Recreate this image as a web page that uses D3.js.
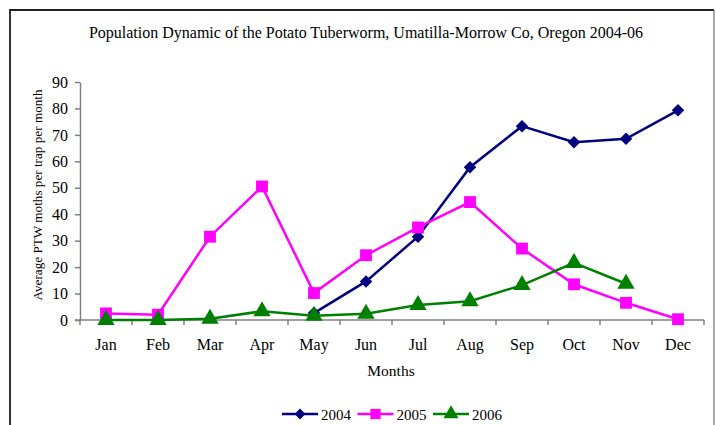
<!DOCTYPE html>
<html>
<head>
<meta charset="utf-8">
<script src="https://cdn.jsdelivr.net/npm/d3@7"></script>
<style>
  body { margin: 0; background: #fff; }
  svg text { font-family: "Liberation Serif", "Times New Roman", serif !important; fill: #000; }
</style>
</head>
<body>
<div id="chart"></div>
<script>
// ---- data ----
const months = ["Jan", "Feb", "Mar", "Apr", "May", "Jun", "Jul", "Aug", "Sep", "Oct", "Nov", "Dec"];
const seriesNames = ["2004", "2005", "2006"];
const values2004 = [null, null, null, null, 2.6, 14.6, 31.5, 57.8, 73.3, 67.2, 68.5, 79.3];
const values2005 = [2.5, 2, 31.5, 50.5, 10.2, 24.5, 35, 44.6, 27, 13.5, 6.5, 0.3];
const values2006 = [0, 0, 0.5, 3.3, 1.6, 2.4, 5.7, 7.1, 13.2, 21.6, 13.7, null];
const yTicks = [0, 10, 20, 30, 40, 50, 60, 70, 80, 90];

// ---- layout ----
const width = 715, height = 425;
const plot = { left: 80, right: 704, top: 82, bottom: 320 };

const svg = d3.select("#chart").append("svg")
    .attr("width", width)
    .attr("height", height)
    .attr("font-family", "Liberation Serif");

// frame (left/top darker, right lighter, bottom cut off)
svg.append("line").attr("x1", 10).attr("x2", 10).attr("y1", 9).attr("y2", height)
    .attr("stroke", "#333").attr("stroke-width", 2);
svg.append("line").attr("x1", 9).attr("x2", 714).attr("y1", 10).attr("y2", 10)
    .attr("stroke", "#222").attr("stroke-width", 2);
svg.append("line").attr("x1", 714).attr("x2", 714).attr("y1", 10).attr("y2", height)
    .attr("stroke", "#888").attr("stroke-width", 1.5);

const x = d3.scaleBand().domain(months).range([plot.left, plot.right]);
const y = d3.scaleLinear().domain([0, 90]).range([plot.bottom, plot.top]);

// y axis
const yAxis = svg.append("g")
    .attr("transform", `translate(${plot.left},0)`)
    .call(d3.axisLeft(y).tickValues(yTicks).tickSize(5).tickSizeOuter(0).tickPadding(7));
yAxis.attr("font-family", null);
yAxis.select(".domain").attr("stroke", "#808080").attr("stroke-width", 1.5);
yAxis.selectAll(".tick line").attr("stroke", "#808080").attr("stroke-width", 1.5);
yAxis.selectAll(".tick text").style("font-size", "16px");

// x axis: ticks at band boundaries
const xAxis = svg.append("g").attr("transform", `translate(0,${plot.bottom})`);
xAxis.append("line")
    .attr("x1", plot.left - 5).attr("x2", plot.right)
    .attr("stroke", "#808080").attr("stroke-width", 1.5);
xAxis.selectAll("line.tk")
    .data(d3.range(months.length + 1))
    .join("line").attr("class", "tk")
    .attr("x1", i => plot.left + i * x.bandwidth())
    .attr("x2", i => plot.left + i * x.bandwidth())
    .attr("y1", 0).attr("y2", 5)
    .attr("stroke", "#808080").attr("stroke-width", 1.5);
xAxis.selectAll("text")
    .data(months)
    .join("text")
    .attr("x", d => x(d) + x.bandwidth() / 2)
    .attr("y", 30)
    .attr("text-anchor", "middle")
    .style("font-size", "16px")
    .text(d => d);

// titles
svg.append("text").attr("x", 366).attr("y", 38).attr("text-anchor", "middle")
    .style("font-size", "16px").text("Population Dynamic of the Potato Tuberworm, Umatilla-Morrow Co, Oregon 2004-06");
svg.append("text").attr("x", 391).attr("y", 376).attr("text-anchor", "middle")
    .style("font-size", "15.5px").text("Months");
svg.append("text").attr("transform", "translate(42,195) rotate(-90)").attr("text-anchor", "middle")
    .style("font-size", "13.2px").text("Average PTW moths per trap per month");

// series
const series = [
  { name: seriesNames[0], values: values2004, color: "#000080", symbol: d3.symbolDiamond2, size: 100 },
  { name: seriesNames[1], values: values2005, color: "#FF00FF", symbol: d3.symbolSquare, size: 140 },
  { name: seriesNames[2], values: values2006, color: "#008000", symbol: d3.symbolTriangle, size: 130 }
];

const cx = d => x(d.m) + x.bandwidth() / 2;
const line = d3.line().x(cx).y(d => y(d.v));

series.forEach(s => {
  const pts = months.map((m, i) => ({ m, v: s.values[i] })).filter(d => d.v !== null);
  svg.append("path").datum(pts)
      .attr("d", line).attr("fill", "none")
      .attr("stroke", s.color).attr("stroke-width", 2.5);
  svg.append("g").selectAll("path")
      .data(pts).join("path")
      .attr("transform", d => `translate(${cx(d)},${y(d.v)})`)
      .attr("d", d3.symbol().type(s.symbol).size(s.size))
      .attr("fill", s.color);
});

// legend
const legend = svg.append("g").attr("transform", "translate(282,414)");
const legendX = [0, 75.5, 151];
series.forEach((s, i) => {
  const g = legend.append("g").attr("transform", `translate(${legendX[i]},0)`);
  g.append("line").attr("x1", 0).attr("x2", 36).attr("stroke", s.color).attr("stroke-width", 2.5);
  g.append("path").attr("transform", "translate(18,0)")
      .attr("d", d3.symbol().type(s.symbol).size(s.size * 0.75))
      .attr("fill", s.color);
  g.append("text").attr("x", 39).attr("y", 5.5).style("font-size", "15px").text(s.name);
});
</script>
</body>
</html>
